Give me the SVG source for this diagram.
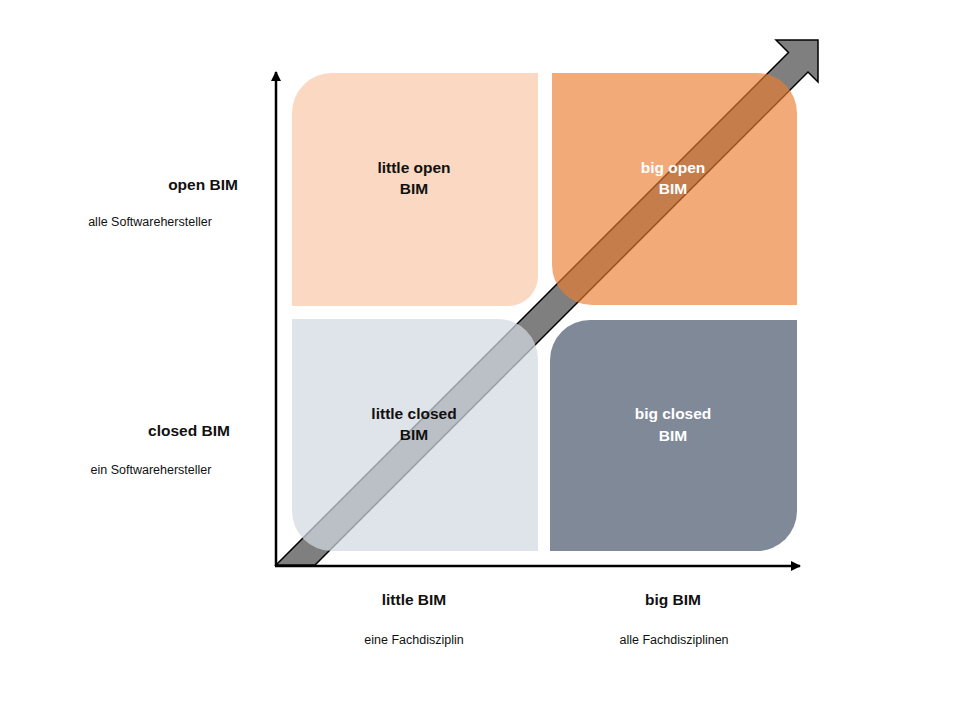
<svg xmlns="http://www.w3.org/2000/svg" width="960" height="720" viewBox="0 0 960 720">
<style>
.t{font-family:"Liberation Sans",Arial,sans-serif;font-weight:bold;font-size:15.5px;fill:#111}
.s{font-family:"Liberation Sans",Arial,sans-serif;font-size:12.5px;fill:#111}
.w{fill:#fff}
.ax{stroke:#000;stroke-width:2.5;fill:none}
</style>
<defs>
<marker id="ah" viewBox="0 0 10 10" refX="9" refY="5" markerWidth="4" markerHeight="4" orient="auto" markerUnits="strokeWidth">
<path d="M0,0 L10,5 L0,10 Z" fill="#000"/>
</marker>
</defs>
<rect width="960" height="720" fill="#fff"/>
<g id="connectors">
<line class="ax" x1="276" y1="566" x2="276" y2="72" marker-end="url(#ah)"/>
<line class="ax" x1="275" y1="566" x2="800" y2="566" marker-end="url(#ah)"/>
<polygon points="276,565 788.5,52.5 776,40 818,40 818,82 808,72 315,565" fill="#7f7f7f" stroke="#000" stroke-width="1.5" stroke-linejoin="miter"/>
</g>
<g id="q-little-open">
<path d="M332,73 H538 V276 A30,30 0 0 1 508,306 H292 V113 A40,40 0 0 1 332,73 Z" fill="#ed7d31" fill-opacity="0.3"/>
<text class="t" x="414" y="173" text-anchor="middle">little open</text>
<text class="t" x="414" y="194" text-anchor="middle">BIM</text>
</g>
<g id="q-big-open">
<path d="M552,73 H757 A40,40 0 0 1 797,113 V305 H592 A40,40 0 0 1 552,265 Z" fill="#ed7d31" fill-opacity="0.65"/>
<text class="t w" x="673" y="173" text-anchor="middle">big open</text>
<text class="t w" x="673" y="194" text-anchor="middle">BIM</text>
</g>
<g id="q-little-closed">
<path d="M292,319 H498 A40,40 0 0 1 538,359 V551 H332 A40,40 0 0 1 292,511 Z" fill="#d3d8e2" fill-opacity="0.72"/>
<text class="t" x="414" y="419" text-anchor="middle">little closed</text>
<text class="t" x="414" y="440" text-anchor="middle">BIM</text>
</g>
<g id="q-big-closed">
<path d="M590,320 H797 V511 A40,40 0 0 1 757,551 H550 V360 A40,40 0 0 1 590,320 Z" fill="#7f8998"/>
<text class="t w" x="673" y="419" text-anchor="middle">big closed</text>
<text class="t w" x="673" y="441" text-anchor="middle">BIM</text>
</g>
<g id="label-open">
<text class="t" x="203" y="190" text-anchor="middle">open BIM</text>
<text class="s" x="150" y="226" text-anchor="middle">alle Softwarehersteller</text>
</g>
<g id="label-closed">
<text class="t" x="189" y="436" text-anchor="middle">closed BIM</text>
<text class="s" x="151" y="474" text-anchor="middle">ein Softwarehersteller</text>
</g>
<g id="label-little">
<text class="t" x="414" y="605" text-anchor="middle">little BIM</text>
<text class="s" x="414" y="644" text-anchor="middle">eine Fachdisziplin</text>
</g>
<g id="label-big">
<text class="t" x="673" y="605" text-anchor="middle">big BIM</text>
<text class="s" x="674" y="644" text-anchor="middle">alle Fachdisziplinen</text>
</g>
</svg>
